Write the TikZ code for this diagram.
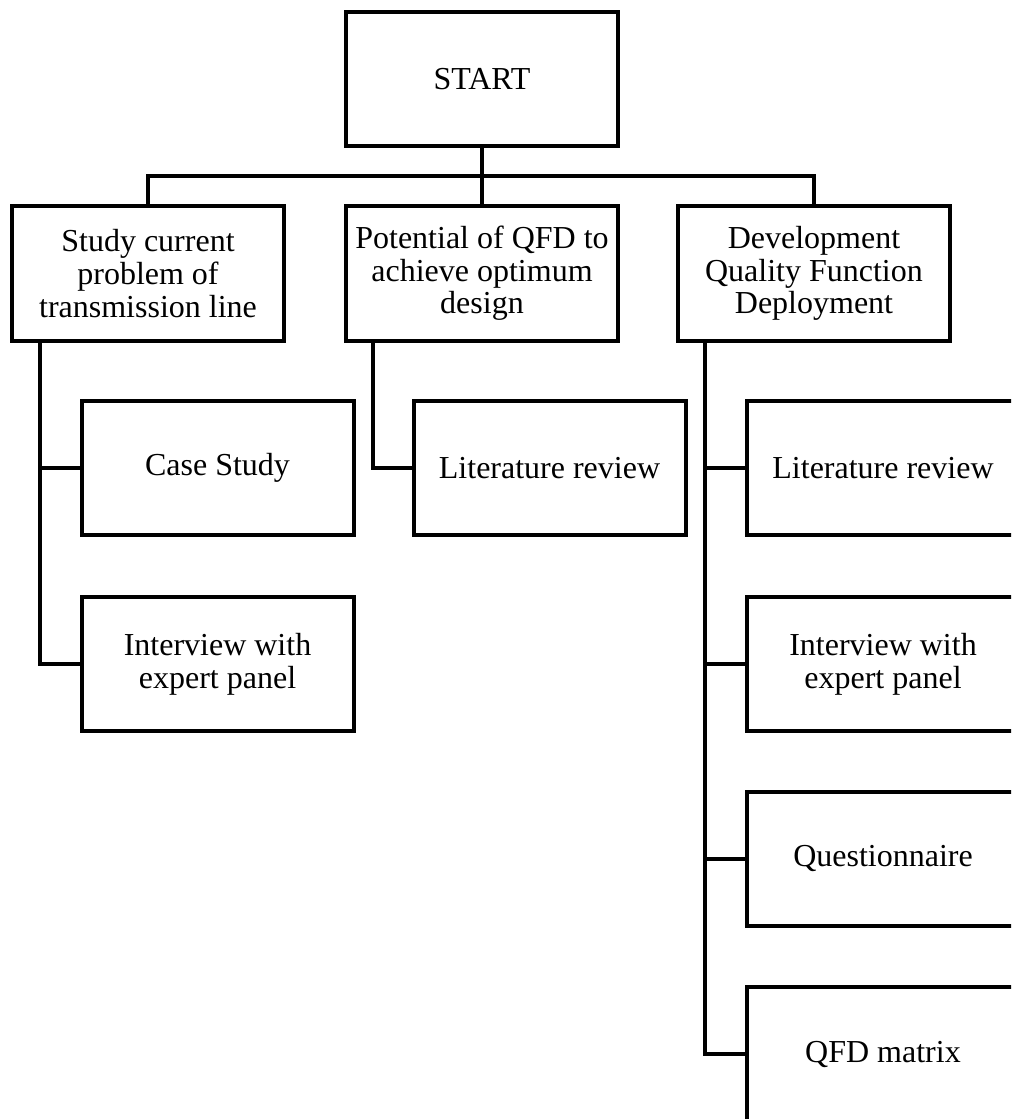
\documentclass[tikz,border=0pt]{standalone}
\usepackage{fontspec}
\setmainfont{Liberation Serif}
\begin{document}
\begin{tikzpicture}[x=0.75pt,y=-0.75pt,
  box/.style={draw=black,line width=3pt,rectangle,inner sep=0pt,align=center,
    minimum width=272*0.75pt,font=\fontsize{24}{24.5}\selectfont},
  tall/.style={box,minimum height=134*0.75pt},
  mid/.style={box,minimum height=135*0.75pt},
  conn/.style={line width=3pt,line join=miter}]
\clip (0,0) rectangle (1011,1119);
\node[tall] (start) at (482,79) {START};
\node[mid] (b1) at (148,273.5) {Study current\\problem of\\transmission line};
\node[mid] (b2) at (482,273.5) {Potential of QFD to\\achieve optimum\\design};
\node[mid] (b3) at (814,273.5) {Development\\Quality Function\\Deployment};
\node[tall] (case) at (217.5,468) {Case Study};
\node[tall] (int1) at (217.5,664) {Interview with\\expert panel};
\node[tall] (lit1) at (549.5,468) {Literature review};
\node[tall] (lit2) at (883,468) {Literature review};
\node[tall] (int2) at (883,664) {Interview with\\expert panel};
\node[tall] (quest) at (883,858.5) {Questionnaire};
\node[tall] (qfd) at (883,1054) {QFD matrix};
\coordinate (busy) at (0,176);
\coordinate (sL) at (40,0);
\coordinate (sM) at (373,0);
\coordinate (sR) at (705,0);
\draw[conn] (start.south) -- (b2.north);
\draw[conn] (b1.north) -- (b1.north |- busy) -- (b3.north |- busy) -- (b3.north);
\draw[conn] (b1.south -| sL) |- (case.west);
\draw[conn] (b1.south -| sL) |- (int1.west);
\draw[conn] (b2.south -| sM) |- (lit1.west);
\draw[conn] (b3.south -| sR) |- (lit2.west);
\draw[conn] (b3.south -| sR) |- (int2.west);
\draw[conn] (b3.south -| sR) |- (quest.west);
\draw[conn] (b3.south -| sR) |- (qfd.west);
\end{tikzpicture}
\end{document}
